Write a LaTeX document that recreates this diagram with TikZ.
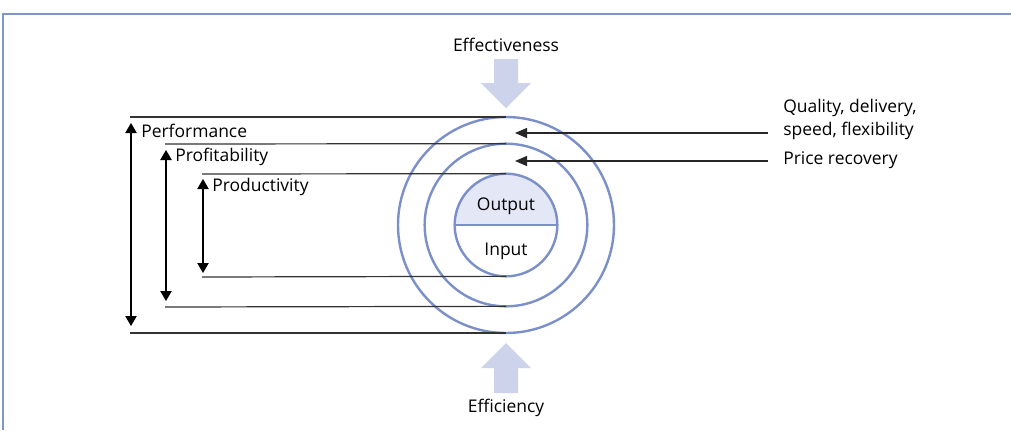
\documentclass[tikz,border=0pt]{standalone}
\usepackage{fontspec}
\setmainfont{Open Sans}
\usepackage{tikz}
\usetikzlibrary{arrows.meta}

\definecolor{ringblue}{HTML}{7B8FC8}
\definecolor{arrowfill}{HTML}{CDD3EB}
\definecolor{outfill}{HTML}{E4E7F5}
\definecolor{framecol}{HTML}{7F96CB}

\begin{document}
\begin{tikzpicture}[x=0.75pt,y=0.75pt,yscale=-1,xscale=1,
  ring/.style={circle,draw=ringblue,line width=1.8pt,inner sep=0pt,outer sep=0pt},
  lvl/.style={draw=black!80,line width=0.9pt},
  dbl/.style={draw=black,line width=0.9pt,{Triangle[length=7.5pt,width=8.5pt]}-{Triangle[length=7.5pt,width=8.5pt]}},
  ptr/.style={draw=black!85,line width=0.9pt,-{Triangle[length=9pt,width=7.5pt]}},
  lbl/.style={anchor=west,inner sep=0.75pt,font=\fontsize{13.1}{17.2}\selectfont},
  txt/.style={inner sep=0.75pt,font=\fontsize{13.1}{17.2}\selectfont},
  fat/.style={fill=arrowfill,draw=none}]

\useasboundingbox (0,0) rectangle (1011,430);

% frame
\draw[framecol,line width=2.2pt] (3,430) -- (3,14) -- (1011,14);

% rings
\fill[outfill] (454.5,225) arc[start angle=180,end angle=360,radius=51.5] -- cycle;
\node[ring,minimum size=162pt] (outer) at (506,225) {};
\node[ring,minimum size=122pt] (middle) at (506,225) {};
\node[ring,minimum size=77pt] (inner) at (506,225) {};
\draw[ringblue,line width=1.8pt] (inner.west) -- (inner.east);

\node[txt] (output) at (506,206) {Output};
\node[txt] (input) at (506,251) {Input};

% level lines
\coordinate (perfTop) at (130,117);
\coordinate (perfBot) at (130,333);
\coordinate (profTop) at (165,144);
\coordinate (profBot) at (165,307);
\coordinate (prodTop) at (202,174);
\coordinate (prodBot) at (202,277);

\draw[lvl] (perfTop) -- (outer.north);
\draw[lvl] (perfBot) -- (outer.south);
\draw[lvl] (profTop) -- (middle.north);
\draw[lvl] (profBot) -- (middle.south);
\draw[lvl] (prodTop) -- (inner.north);
\draw[lvl] (prodBot) -- (inner.south);

\draw[dbl] ([shift={(1,6)}]perfTop) -- ([shift={(1,-7)}]perfBot);
\draw[dbl] ([shift={(1,6)}]profTop) -- ([shift={(1,-6)}]profBot);
\draw[dbl] ([shift={(1,5)}]prodTop) -- ([shift={(1,-4)}]prodBot);

\node[lbl] (perf) at (140,131) {Performance};
\node[lbl] (prof) at (174,157) {Profitability};
\node[lbl] (prod) at (211,187) {Productivity};

% drivers on the right
\coordinate (qualTail) at (768,133);
\coordinate (qualTip) at (515,133);
\coordinate (priceTail) at (768,161);
\coordinate (priceTip) at (515,161);
\draw[ptr] (qualTail) -- (qualTip);
\draw[ptr] (priceTail) -- (priceTip);

\node[lbl,align=left] (qual) at (782,119) {Quality, delivery,\\speed, flexibility};
\node[lbl] (price) at (782,160) {Price recovery};

% big arrows
\fill[fat] (494,59) -- (518,59) -- (518,83) -- (531,83) -- (506,108) -- (481,83) -- (494,83) -- cycle;
\fill[fat] (494,393) -- (518,393) -- (518,368) -- (531,368) -- (506,343) -- (481,368) -- (494,368) -- cycle;

\node[txt] (effect) at (506,45) {Effectiveness};
\node[txt] (effic) at (506,408) {Efficiency};

\end{tikzpicture}
\end{document}
